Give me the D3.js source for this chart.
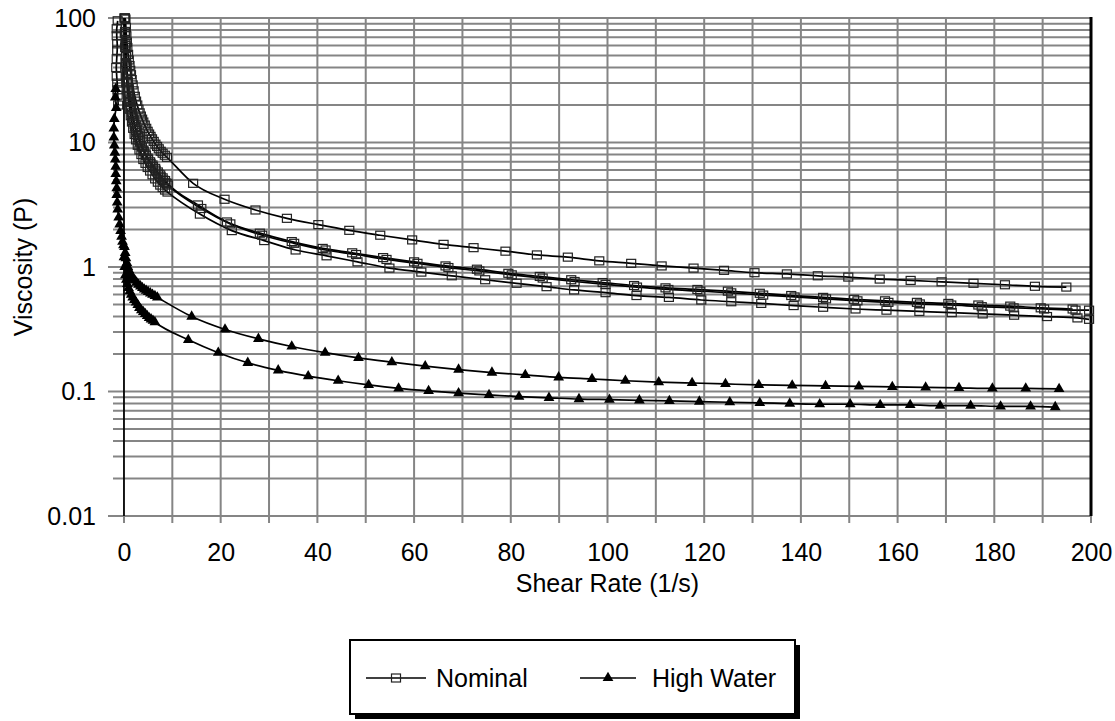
<!DOCTYPE html>
<html>
<head>
<meta charset="utf-8">
<script src="https://cdn.jsdelivr.net/npm/d3@7"></script>
<style>
  html, body { margin: 0; padding: 0; background: #fff; }
  svg text { font-family: "Liberation Sans", Arial, sans-serif; fill: #000; }
</style>
</head>
<body>
<svg id="chart" width="1115" height="721"></svg>
<script>
// Shear rate (1/s) vs viscosity (P): ramp measurements for two mixes

const xTickValues = [0, 20, 40, 60, 80, 100, 120, 140, 160, 180, 200];
const yTickValues = [0.01, 0.1, 1, 10, 100];
const yTickLabels = ["0.01", "0.1", "1", "10", "100"];
const legendLabels = ["Nominal", "High Water"];

// Nominal mix: start-up readings, then four ramp branches
const nominalStartup = [[-1.3, 95], [-1.5, 82], [-1.5, 72], [-1.4, 62], [-1.4, 55], [-1.5, 47], [-1.6, 40],
  [-1.5, 34], [-1.4, 30], [-1.3, 26.5], [-1.3, 24], [-1.2, 20]];

const nominalA = [[0.3, 98], [0.4, 84], [0.5, 72], [0.6, 64], [0.7, 58], [0.85, 51], [1.0, 46], [1.15, 41.5],
  [1.3, 38], [1.45, 35], [1.6, 32], [1.8, 29], [2.0, 26], [2.25, 23.5], [2.5, 21.5], [2.75, 20], [3.0, 18.5],
  [3.25, 17.3], [3.5, 16.3], [3.75, 15.4], [4.0, 14.6], [4.3, 13.8], [4.6, 13.0], [4.9, 12.3], [5.2, 11.7],
  [5.5, 11.2], [5.8, 10.7], [6.15, 10.2], [6.5, 9.7], [6.85, 9.3], [7.2, 8.9], [7.6, 8.5], [8.0, 8.2],
  [8.45, 7.9], [8.9, 7.6],
  [14.3, 4.7], [20.8, 3.5], [27.2, 2.87], [33.7, 2.46], [40.2, 2.19], [46.6, 1.97],
  [53.0, 1.80], [59.6, 1.65], [66.1, 1.52], [72.3, 1.43], [78.9, 1.34], [85.4, 1.25], [91.8, 1.20],
  [98.3, 1.12], [104.9, 1.07], [111.2, 1.02], [117.8, 0.98], [124.1, 0.94], [130.4, 0.90], [137.1, 0.88],
  [143.5, 0.85], [149.8, 0.83], [156.3, 0.80], [162.7, 0.78], [169.1, 0.76], [175.7, 0.74], [182.2, 0.72],
  [188.4, 0.70], [194.9, 0.69]];

const nominalB = [[0.15, 100], [0.22, 78], [0.3, 62], [0.4, 50], [0.5, 42], [0.62, 36], [0.75, 31],
  [0.87, 27.8], [1.0, 25], [1.2, 22], [1.4, 19.5], [1.65, 17.3], [1.9, 15.5], [2.2, 13.9], [2.5, 12.5],
  [2.85, 11.4], [3.2, 10.4], [3.6, 9.5], [4.0, 8.7], [4.45, 8.1], [4.9, 7.5], [5.4, 7.0], [5.9, 6.6],
  [6.45, 6.2], [7.0, 5.8], [7.5, 5.5], [8.0, 5.2], [8.5, 4.95], [9.0, 4.7],
  [15.3, 3.15], [21.3, 2.30], [28.1, 1.87], [34.7, 1.60], [41.1, 1.41], [47.2, 1.30], [53.6, 1.19],
  [60.0, 1.10], [66.5, 1.02], [73.0, 0.96], [79.5, 0.89], [86.0, 0.84], [92.5, 0.79], [99.0, 0.75],
  [105.5, 0.71], [112.0, 0.68], [118.6, 0.66], [124.9, 0.64], [131.5, 0.615], [138.0, 0.59], [144.6, 0.57],
  [151.0, 0.55], [157.4, 0.535], [164.0, 0.52], [170.5, 0.51], [176.7, 0.495], [183.3, 0.485],
  [189.6, 0.47], [196.2, 0.46]];

const nominalC = [[0.2, 100], [0.27, 76], [0.35, 60], [0.45, 49], [0.55, 41], [0.67, 35], [0.8, 30.5],
  [0.95, 27], [1.1, 24], [1.3, 21.3], [1.5, 19], [1.75, 16.8], [2.0, 15], [2.3, 13.4], [2.6, 12.1],
  [2.95, 11], [3.3, 10.1], [3.7, 9.2], [4.1, 8.5], [4.55, 7.9], [5.0, 7.3], [5.5, 6.8], [6.0, 6.4],
  [6.55, 6.0], [7.1, 5.6], [7.6, 5.3], [8.1, 5.0], [8.6, 4.75], [9.1, 4.55],
  [16.0, 2.95], [22.0, 2.22], [28.6, 1.80], [35.2, 1.55], [41.7, 1.37], [48.0, 1.26], [54.3, 1.15],
  [60.7, 1.07], [67.1, 0.99], [73.5, 0.93], [80.2, 0.865], [86.6, 0.815], [93.2, 0.765], [99.6, 0.725],
  [106.1, 0.69], [112.6, 0.66], [119.2, 0.64], [125.6, 0.62], [132.2, 0.595], [138.7, 0.575],
  [145.2, 0.555], [151.7, 0.535], [158.1, 0.52], [164.6, 0.505], [171.1, 0.495], [177.4, 0.48],
  [184.0, 0.47], [190.3, 0.46], [196.8, 0.45], [199.6, 0.45]];

const nominalD = [[0.12, 100], [0.18, 75], [0.25, 58], [0.37, 44], [0.5, 35], [0.62, 30], [0.75, 26],
  [0.87, 23.3], [1.0, 21], [1.2, 18.5], [1.4, 16.4], [1.65, 14.6], [1.9, 13], [2.2, 11.6], [2.5, 10.5],
  [2.85, 9.5], [3.2, 8.7], [3.6, 8.0], [4.0, 7.3], [4.45, 6.8], [4.9, 6.3], [5.4, 5.9], [5.9, 5.5],
  [6.45, 5.1], [7.0, 4.8], [7.5, 4.55], [8.0, 4.35], [8.5, 4.15], [9.0, 4.0],
  [15.7, 2.66], [22.3, 1.96], [29.0, 1.63], [35.5, 1.37], [41.9, 1.23], [48.3, 1.10], [54.9, 0.98],
  [61.5, 0.91], [67.8, 0.85], [74.7, 0.79], [81.2, 0.74], [87.4, 0.695], [93.1, 0.654], [99.6, 0.622],
  [106.0, 0.59], [112.7, 0.57], [119.4, 0.543], [125.6, 0.526], [131.8, 0.51], [138.5, 0.49],
  [144.6, 0.475], [151.3, 0.46], [157.7, 0.45], [164.5, 0.44], [171.2, 0.43], [177.6, 0.42],
  [184.1, 0.41], [190.9, 0.40], [197.2, 0.39], [199.6, 0.38]];

// High water mix: start-up readings, then up and down ramps
const highWaterStartup = [[-1.7, 27], [-1.8, 23], [-1.6, 19], [-2.0, 15.5], [-2.1, 13], [-2.1, 11],
  [-2.0, 9.5], [-1.9, 8.3], [-1.8, 7.3], [-1.7, 6.4], [-1.7, 5.6], [-1.6, 4.9], [-1.5, 4.3], [-1.5, 3.8],
  [-1.4, 3.3], [-1.3, 2.9], [-1.1, 2.5], [-0.9, 2.2], [-0.7, 1.95], [-0.5, 1.75], [-0.3, 1.6], [-0.1, 1.5]];

const highWaterA = [[0.1, 1.45], [0.25, 1.3], [0.4, 1.18], [0.6, 1.08], [0.8, 1.0], [1.05, 0.94], [1.3, 0.89],
  [1.6, 0.85], [1.9, 0.81], [2.25, 0.78], [2.6, 0.75], [3.0, 0.72], [3.4, 0.70], [3.8, 0.68], [4.2, 0.66],
  [4.6, 0.645], [5.0, 0.63], [5.45, 0.615], [5.9, 0.60], [6.4, 0.585], [6.9, 0.57],
  [14.0, 0.40], [20.9, 0.315],
  [27.8, 0.265], [34.7, 0.23], [41.6, 0.205], [48.5, 0.186], [55.4, 0.172], [62.3, 0.160], [69.2, 0.150],
  [76.1, 0.142], [83.0, 0.136], [89.9, 0.130], [96.8, 0.126], [103.7, 0.122], [110.6, 0.119],
  [117.5, 0.117], [124.4, 0.115], [131.3, 0.113], [138.2, 0.112], [145.1, 0.111], [152.0, 0.110],
  [158.9, 0.109], [165.8, 0.108], [172.7, 0.107], [179.6, 0.106], [186.5, 0.106], [193.4, 0.105]];

const highWaterB = [[0.0, 1.2], [0.15, 1.0], [0.3, 0.86], [0.5, 0.79], [0.7, 0.73], [0.95, 0.68], [1.2, 0.64],
  [1.5, 0.6], [1.8, 0.57], [2.15, 0.545], [2.5, 0.52], [2.85, 0.495], [3.2, 0.47], [3.6, 0.45], [4.0, 0.435],
  [4.4, 0.42], [4.8, 0.405], [5.2, 0.39], [5.6, 0.38], [6.0, 0.37], [6.4, 0.36],
  [13.3, 0.26], [19.5, 0.205],
  [25.6, 0.170], [31.9, 0.148], [38.1, 0.133], [44.3, 0.122], [50.6, 0.113], [56.8, 0.106], [63.0, 0.101],
  [69.2, 0.097], [75.5, 0.094], [81.7, 0.091], [87.9, 0.089], [94.1, 0.087], [100.4, 0.086],
  [106.6, 0.085], [112.8, 0.084], [119.0, 0.083], [125.3, 0.082], [131.5, 0.081], [137.7, 0.080],
  [143.9, 0.079], [150.2, 0.079], [156.4, 0.078], [162.6, 0.078], [168.8, 0.077], [175.1, 0.077],
  [181.3, 0.076], [187.5, 0.076], [192.6, 0.075]];

// ---------------------------------------------------------------------------
const svg = d3.select("#chart");
const plot = { left: 113, right: 1091, top: 18, bottom: 516 };
const gridColor = "#858585";
const fontSize = 25;

const x = d3.scaleLinear().domain([-2.27, 200]).range([plot.left, plot.right]);
const y = d3.scaleLog().domain([0.01, 100]).range([plot.bottom, plot.top]);

svg.append("rect").attr("width", 1115).attr("height", 721).attr("fill", "#fff");

// horizontal grid: every 1..9 step of each decade
const minorY = [];
for (let e = -2; e < 2; e++) for (let m = 1; m < 10; m++) minorY.push(m * Math.pow(10, e));
minorY.push(100);

const grid = svg.append("g").attr("stroke", gridColor).attr("stroke-width", 2);
grid.selectAll("line.h").data(minorY).join("line")
  .attr("x1", d => yTickValues.some(t => Math.abs(t - d) < 1e-9) ? plot.left - 5 : plot.left)
  .attr("x2", plot.right)
  .attr("y1", d => y(d)).attr("y2", d => y(d));

// vertical grid every 10 units, with tick marks below the plot
const xGrid = d3.range(10, 200, 10);
grid.selectAll("line.v").data(xGrid).join("line")
  .attr("x1", d => x(d)).attr("x2", d => x(d))
  .attr("y1", plot.top).attr("y2", plot.bottom + 7);
grid.append("line").attr("x1", x(0)).attr("x2", x(0)).attr("y1", plot.bottom).attr("y2", plot.bottom + 7);
grid.append("line").attr("x1", x(200)).attr("x2", x(200)).attr("y1", plot.bottom).attr("y2", plot.bottom + 7);

// value axis at zero and right-hand frame
svg.append("line").attr("x1", x(0)).attr("x2", x(0)).attr("y1", plot.top).attr("y2", plot.bottom)
  .attr("stroke", "#000").attr("stroke-width", 1.8);
svg.append("line").attr("x1", x(200)).attr("x2", x(200)).attr("y1", plot.top - 1).attr("y2", plot.bottom)
  .attr("stroke", "#000").attr("stroke-width", 3);

// axis labels
const xAxis = d3.axisBottom(x).tickValues(xTickValues).tickSize(0).tickPadding(0).tickFormat(d3.format("d"));
const gx = svg.append("g").attr("transform", `translate(0,${plot.bottom + 27})`).call(xAxis);
gx.select(".domain").remove();
gx.selectAll("text").attr("font-size", fontSize).attr("font-family", "Liberation Sans, Arial, sans-serif")
  .attr("dy", "0.71em").attr("fill", "#000");

const yAxis = d3.axisLeft(y).tickValues(yTickValues).tickSize(0).tickPadding(0)
  .tickFormat((d, i) => yTickLabels[i]);
const gy = svg.append("g").attr("transform", `translate(${plot.left - 17},0)`).call(yAxis);
gy.select(".domain").remove();
gy.selectAll("text").attr("font-size", fontSize).attr("font-family", "Liberation Sans, Arial, sans-serif")
  .attr("fill", "#000");

svg.append("text").attr("x", (x(0) + x(200)) / 2).attr("y", 592)
  .attr("text-anchor", "middle").attr("font-size", fontSize).text("Shear Rate (1/s)");
svg.append("text").attr("transform", `translate(32,${(plot.top + plot.bottom) / 2}) rotate(-90)`)
  .attr("text-anchor", "middle").attr("font-size", fontSize).text("Viscosity (P)");

// curves
const smooth = d3.line().x(d => x(d[0])).y(d => y(d[1])).curve(d3.curveMonotoneX);
const straight = d3.line().x(d => x(d[0])).y(d => y(d[1]));
const curves = svg.append("g").attr("fill", "none").attr("stroke", "#000").attr("stroke-width", 1.7);

const nominalBranches = [nominalA, nominalB, nominalC, nominalD];
const highWaterBranches = [highWaterA, highWaterB];

curves.append("path").attr("d", straight(nominalStartup));
curves.append("path").attr("d", straight(highWaterStartup));
curves.append("path").attr("d", straight([highWaterStartup[highWaterStartup.length - 1], highWaterA[0]]));
nominalBranches.forEach(b => curves.append("path").attr("d", smooth(b)));
highWaterBranches.forEach(b => curves.append("path").attr("d", smooth(b)));

// markers
const sqW = 9, sqH = 8;
const nominalPoints = [nominalStartup, ...nominalBranches].flat();
svg.append("g").selectAll("rect").data(nominalPoints).join("rect")
  .attr("x", d => x(d[0]) - sqW / 2).attr("y", d => y(d[1]) - sqH / 2)
  .attr("width", sqW).attr("height", sqH)
  .attr("fill", "none").attr("stroke", "#222").attr("stroke-width", 1.2);

const tri = d3.symbol().type(d3.symbolTriangle).size(50);
const highWaterPoints = [highWaterStartup, ...highWaterBranches].flat();
svg.append("g").selectAll("path").data(highWaterPoints).join("path")
  .attr("transform", d => `translate(${x(d[0])},${y(d[1])})`)
  .attr("d", tri).attr("fill", "#000");

// legend
const lg = svg.append("g");
const box = { x: 350, y: 640, w: 445, h: 74 };
lg.append("rect").attr("x", box.x + 5).attr("y", box.y + 5).attr("width", box.w).attr("height", box.h).attr("fill", "#000");
lg.append("rect").attr("x", box.x).attr("y", box.y).attr("width", box.w).attr("height", box.h)
  .attr("fill", "#fff").attr("stroke", "#000").attr("stroke-width", 2);
const ly = box.y + 38;
lg.append("line").attr("x1", 366).attr("x2", 426).attr("y1", ly).attr("y2", ly).attr("stroke", "#000").attr("stroke-width", 1.5);
lg.append("rect").attr("x", 396 - sqW / 2).attr("y", ly - sqH / 2).attr("width", sqW).attr("height", sqH)
  .attr("fill", "none").attr("stroke", "#222").attr("stroke-width", 1.2);
lg.append("text").attr("x", 436).attr("y", ly).attr("dy", "0.35em").attr("font-size", fontSize).text(legendLabels[0]);
lg.append("line").attr("x1", 580).attr("x2", 636).attr("y1", ly).attr("y2", ly).attr("stroke", "#000").attr("stroke-width", 1.5);
lg.append("path").attr("transform", `translate(608,${ly})`).attr("d", tri).attr("fill", "#000");
lg.append("text").attr("x", 652).attr("y", ly).attr("dy", "0.35em").attr("font-size", fontSize).text(legendLabels[1]);
</script>
</body>
</html>
